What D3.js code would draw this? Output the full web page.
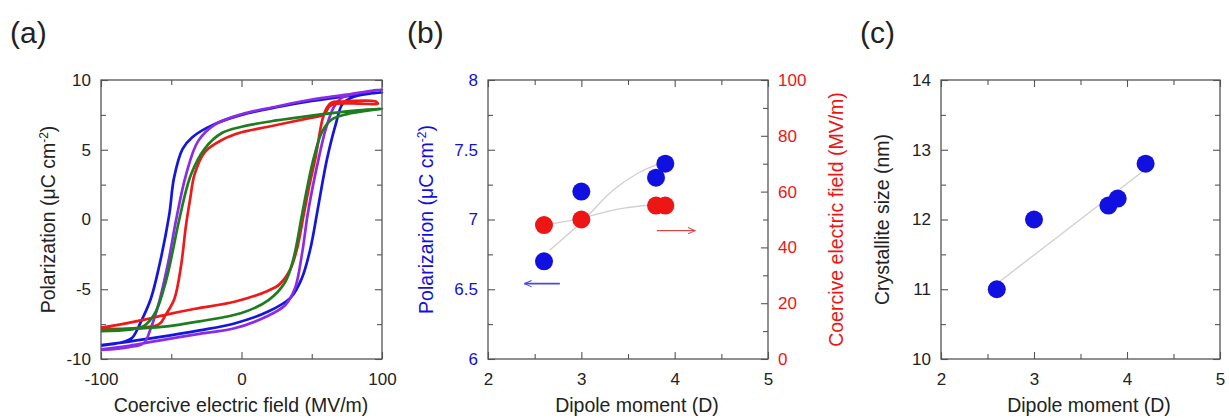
<!DOCTYPE html>
<html>
<head>
<meta charset="utf-8">
<script src="https://cdn.jsdelivr.net/npm/d3@7"></script>
<style>
  body { margin: 0; background: #fff; }
  svg text { font-family: "Liberation Sans", Arial, sans-serif; }
</style>
</head>
<body>
<script>
// ---- panel (a): hysteresis loops, [E (MV/m), P (uC/cm2)], lower branch then upper branch
var loopBlue = [[-100,-9.0],[-80,-8.75],[-60,-8.45],[-30,-7.95],[-5,-7.45],[19,-6.6],[35,-5.6],[43,-4.2],[49,-2.1],[53.5,0.3],[57,2.3],[61,4.4],[67,6.8],[72,8.3],[80,8.8],[100,9.12],
  [75,8.85],[50,8.5],[25,8.05],[0,7.5],[-20,6.8],[-35,5.9],[-42,5.05],[-48,3.0],[-51.5,0.3],[-58.5,-3.3],[-64.6,-5.7],[-71.7,-7.35],[-78,-8.5],[-85,-8.8],[-100,-9.05]];
var loopPurple = [[-100,-9.3],[-80,-9.05],[-60,-8.7],[-30,-8.2],[-5,-7.8],[19,-6.9],[31,-6.15],[38,-4.95],[43,-2.5],[47,0.3],[51,2.5],[55,4.4],[60,6.5],[66,8.1],[72,8.75],[100,9.32],
  [75,8.95],[50,8.6],[25,8.1],[0,7.55],[-19,6.8],[-31,5.6],[-39.5,3.2],[-46.5,0],[-52,-3.0],[-58.6,-5.9],[-64.6,-7.8],[-69.4,-8.85],[-80,-9.15],[-100,-9.35]];
var loopGreen = [[-100,-7.95],[-80,-7.85],[-57,-7.7],[-30,-7.3],[0,-6.7],[19,-5.8],[31,-4.5],[37,-2.8],[43,0.3],[47,2.4],[51.4,4.4],[57.4,6.3],[64,7.15],[75,7.55],[100,7.95],
  [75,7.75],[50,7.45],[25,7.1],[0,6.65],[-14,6.2],[-26,5.1],[-36,3.2],[-44.3,0],[-49,-2.3],[-54,-4.5],[-61,-6.6],[-69,-7.6],[-80,-7.9],[-100,-8.0]];
var loopRed = [[-100,-7.75],[-85,-7.5],[-70,-7.2],[-55,-6.85],[-33,-6.4],[-5,-5.9],[19,-5.1],[27,-4.65],[34.6,-3.6],[39.5,-2.1],[44.2,0.3],[48,2.3],[52.6,4.4],[57.8,7.25],[61,8.05],[64,8.38],[70,8.45],[95,8.47],[97,8.3],
  [85,8.3],[68,8.3],[62.5,8.1],[60,7.7],[57,7.45],[50,7.3],[19,6.65],[0,6.25],[-14,5.7],[-26,4.85],[-33.5,3.2],[-36.5,1.5],[-39.5,-0.4],[-43,-3.3],[-47.8,-5.7],[-53.8,-6.8],[-58.6,-7.5],[-70,-7.75],[-100,-7.85]];
var loops = [loopBlue, loopPurple, loopRed, loopGreen];
var loopColors = ["#1515e0", "#8a2be8", "#ee1a1a", "#1e7d1e"];

// ---- panel (b)
var dipoleB = [2.6, 3.0, 3.8, 3.9];
var polarization = [6.7, 7.2, 7.3, 7.4];
var coercive = [48, 50, 55, 55];
var polFitX = [2.66, 3.0, 3.34, 3.6, 3.87];
var polFitY = [6.78, 6.98, 7.21, 7.33, 7.41];
var coeFitX = [2.6, 3.0, 3.34, 3.77, 3.9];
var coeFitY = [48, 50.4, 53.4, 55.2, 55.4];
var blueArrowX = [2.77, 2.39], blueArrowY = 6.54;
var redArrowX = [3.81, 4.22], redArrowY = 46;

// ---- panel (c)
var dipoleC = [2.6, 3.0, 3.8, 3.9, 4.2];
var crystallite = [11, 12, 12.2, 12.3, 12.8];
var sizeFitX = [2.6, 4.2];
var sizeFitY = [11.08, 12.72];

var BLUE = "#1010e0", RED = "#ee1515";

var svg = d3.select("body").append("svg")
    .attr("width", 1229)
    .attr("height", 418);

var defs = svg.append("defs");
[["arrB", "#4a4ae0"], ["arrR", "#d84848"]].forEach(function (m) {
    defs.append("marker").attr("id", m[0])
        .attr("viewBox", "0 -5 10 10").attr("refX", 9).attr("refY", 0)
        .attr("markerWidth", 8).attr("markerHeight", 8).attr("markerUnits", "userSpaceOnUse")
        .attr("orient", "auto")
        .append("path").attr("d", "M0,-4L9,0L0,4")
        .attr("fill", "none").attr("stroke", m[1]).attr("stroke-width", 1.3);
});

// plain hyphen minus like the original figure
var fmt = function (d) { return String(d); };

// inward ticks on one side of a frame
function addAxis(orient, scale, pos, values, size, labels, color) {
    var make = { bottom: d3.axisBottom, top: d3.axisTop, left: d3.axisLeft, right: d3.axisRight }[orient];
    var gen = make(scale).tickValues(values).tickSizeInner(-size).tickSizeOuter(0)
        .tickPadding(orient === "bottom" ? 14 : 10)
        .tickFormat(labels ? fmt : "");
    var horiz = orient === "bottom" || orient === "top";
    var g = svg.append("g")
        .attr("transform", horiz ? "translate(0," + pos + ")" : "translate(" + pos + ",0)")
        .call(gen);
    g.select(".domain").remove();
    g.selectAll("line").attr("stroke", "#555").attr("stroke-width", 1.1);
    g.selectAll("text").attr("font-size", 17).attr("fill", color || "#222")
        .attr("font-family", "Liberation Sans, Arial, sans-serif");
    return g;
}

function frame(x, y, xMaj, xMin, yMaj, yMin, yColor, y2, y2Maj, y2Min, y2Color) {
    var x0 = x.range()[0], x1 = x.range()[1], yb = y.range()[0], yt = y.range()[1];
    addAxis("bottom", x, yb, xMin, 5, false);
    addAxis("bottom", x, yb, xMaj, 7, true);
    addAxis("top", x, yt, xMin, 5, false);
    addAxis("top", x, yt, xMaj, 7, false);
    addAxis("left", y, x0, yMin, 5, false);
    addAxis("left", y, x0, yMaj, 7, true, yColor);
    if (y2) {
        addAxis("right", y2, x1, y2Min, 5, false);
        addAxis("right", y2, x1, y2Maj, 7, true, y2Color);
    } else {
        addAxis("right", y, x1, yMin, 5, false);
        addAxis("right", y, x1, yMaj, 7, false);
    }
    svg.append("rect").attr("x", x0).attr("y", yt)
        .attr("width", x1 - x0).attr("height", yb - yt)
        .attr("fill", "none").attr("stroke", "#555").attr("stroke-width", 1.3);
}

function yTitle(xpos, parts, color) {
    var t = svg.append("text")
        .attr("transform", "translate(" + xpos + ",219.5) rotate(-90)")
        .attr("text-anchor", "middle").attr("font-size", 19.5).attr("fill", color);
    parts.forEach(function (p) {
        var s = t.append("tspan").text(p[0]);
        if (p[1]) s.attr("baseline-shift", "super").attr("font-size", 12);
    });
}

function xTitle(xpos, txt) {
    svg.append("text").attr("x", xpos).attr("y", 412)
        .attr("text-anchor", "middle").attr("font-size", 19.5).attr("fill", "#222")
        .text(txt);
}

function panelLabel(xpos, txt) {
    svg.append("text").attr("x", xpos).attr("y", 43)
        .attr("font-size", 30).attr("fill", "#222").text(txt);
}

// ================= (a) =================
var xa = d3.scaleLinear().domain([-100, 100]).range([101, 382]);
var ya = d3.scaleLinear().domain([-10, 10]).range([359, 80]);

var loopLine = d3.line()
    .x(function (d) { return xa(d[0]); })
    .y(function (d) { return ya(d[1]); })
    .curve(d3.curveCatmullRom.alpha(0.5));

svg.append("g").selectAll("path")
    .data(loops)
    .enter().append("path")
    .attr("d", loopLine)
    .attr("fill", "none")
    .attr("stroke", function (d, i) { return loopColors[i]; })
    .attr("stroke-width", 2.7)
    .attr("stroke-linejoin", "round");

frame(xa, ya, [-100, 0, 100], [-50, 50], [-10, -5, 0, 5, 10], [-7.5, -2.5, 2.5, 7.5]);
panelLabel(10, "(a)");
xTitle(241, "Coercive electric field (MV/m)");
yTitle(55, [["Polarization (\u03bcC cm"], ["-2", true], [")"]], "#222");

// ================= (b) =================
var xb = d3.scaleLinear().domain([2, 5]).range([488, 768]);
var yb = d3.scaleLinear().domain([6, 8]).range([359, 80]);
var yb2 = d3.scaleLinear().domain([0, 100]).range([359, 80]);

var polFit = d3.line().x(function (d, i) { return xb(polFitX[i]); })
    .y(function (d) { return yb(d); }).curve(d3.curveMonotoneX);
var coeFit = d3.line().x(function (d, i) { return xb(coeFitX[i]); })
    .y(function (d) { return yb2(d); }).curve(d3.curveMonotoneX);

svg.append("path").attr("d", polFit(polFitY))
    .attr("fill", "none").attr("stroke", "#cfcfcf").attr("stroke-width", 1.3);
svg.append("path").attr("d", coeFit(coeFitY))
    .attr("fill", "none").attr("stroke", "#cfcfcf").attr("stroke-width", 1.3);

svg.append("g").selectAll("circle")
    .data(polarization).enter().append("circle")
    .attr("cx", function (d, i) { return xb(dipoleB[i]); })
    .attr("cy", function (d) { return yb(d); })
    .attr("r", 9).attr("fill", BLUE);
svg.append("g").selectAll("circle")
    .data(coercive).enter().append("circle")
    .attr("cx", function (d, i) { return xb(dipoleB[i]); })
    .attr("cy", function (d) { return yb2(d); })
    .attr("r", 9).attr("fill", RED);

svg.append("line")
    .attr("x1", xb(blueArrowX[0])).attr("x2", xb(blueArrowX[1]))
    .attr("y1", yb(blueArrowY)).attr("y2", yb(blueArrowY))
    .attr("stroke", "#4a4ae0").attr("stroke-width", 1.6).attr("marker-end", "url(#arrB)");
svg.append("line")
    .attr("x1", xb(redArrowX[0])).attr("x2", xb(redArrowX[1]))
    .attr("y1", yb2(redArrowY)).attr("y2", yb2(redArrowY))
    .attr("stroke", "#d84848").attr("stroke-width", 1.4).attr("marker-end", "url(#arrR)");

frame(xb, yb, [2, 3, 4, 5], [2.5, 3.5, 4.5],
    [6, 6.5, 7, 7.5, 8], [6.25, 6.75, 7.25, 7.75], BLUE,
    yb2, [0, 20, 40, 60, 80, 100], [10, 30, 50, 70, 90], RED);
panelLabel(407, "(b)");
xTitle(637, "Dipole moment (D)");
yTitle(433, [["Polarizarion (\u03bcC cm"], ["-2", true], [")"]], BLUE);
yTitle(843, [["Coercive electric field (MV/m)"]], RED);

// ================= (c) =================
var xc = d3.scaleLinear().domain([2, 5]).range([941, 1220]);
var yc = d3.scaleLinear().domain([10, 14]).range([359, 80]);

svg.append("line")
    .attr("x1", xc(sizeFitX[0])).attr("x2", xc(sizeFitX[1]))
    .attr("y1", yc(sizeFitY[0])).attr("y2", yc(sizeFitY[1]))
    .attr("stroke", "#d0d0d0").attr("stroke-width", 1.3);

svg.append("g").selectAll("circle")
    .data(crystallite).enter().append("circle")
    .attr("cx", function (d, i) { return xc(dipoleC[i]); })
    .attr("cy", function (d) { return yc(d); })
    .attr("r", 9).attr("fill", BLUE);

frame(xc, yc, [2, 3, 4, 5], [2.5, 3.5, 4.5],
    [10, 11, 12, 13, 14], [10.5, 11.5, 12.5, 13.5]);
panelLabel(860, "(c)");
xTitle(1089, "Dipole moment (D)");
yTitle(889, [["Crystallite size (nm)"]], "#222");
</script>
</body>
</html>
